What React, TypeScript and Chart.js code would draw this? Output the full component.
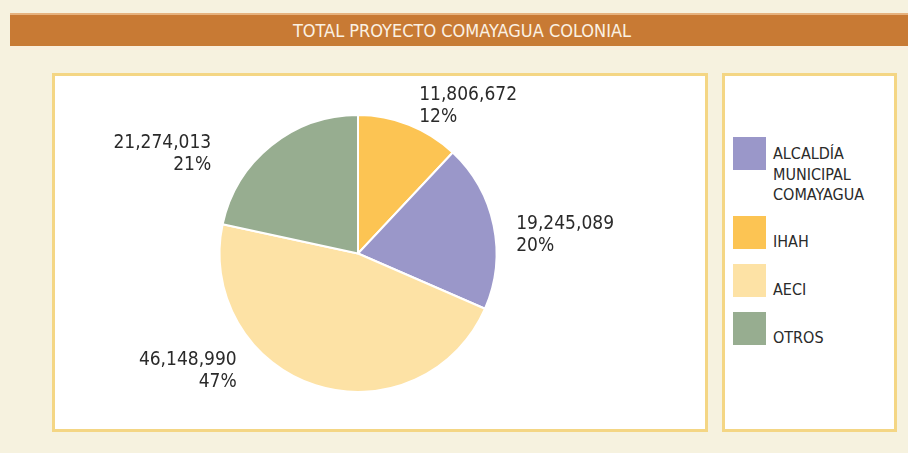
import React, { useEffect, useRef } from "react";
import { Chart, registerables } from "chart.js";

Chart.register(...registerables);

// ---- data (pie order, clockwise from top) ----
const sliceNames = ["IHAH", "ALCALDÍA MUNICIPAL COMAYAGUA", "AECI", "OTROS"];
const sliceValues = [11806672, 19245089, 46148990, 21274013];
const slicePercents = ["12%", "20%", "47%", "21%"];
const sliceColors = ["#FCC453", "#9A97C9", "#FDE2A5", "#97AD90"];

// legend order (indices into slice arrays) and its text lines
const legendOrder = [1, 0, 2, 3];
const legendLines = [["IHAH"], ["ALCALDÍA", "MUNICIPAL", "COMAYAGUA"], ["AECI"], ["OTROS"]];

const title = "TOTAL PROYECTO COMAYAGUA COLONIAL";

// label placement styling (angle shift in degrees, radius factor)
const labelShift = [1, 5, 28, -17];
const labelRadius = [1.15, 1.15, 1.22, 1.28];

const FONT = "'DejaVu Sans Condensed', 'DejaVu Sans', sans-serif";

const fmt = (v: number) => v.toLocaleString("en-US");

const labelPlugin = {
  id: "outerLabels",
  afterDatasetsDraw(chart: any) {
    const ctx = chart.ctx;
    const meta = chart.getDatasetMeta(0);
    ctx.save();
    ctx.font = `19px ${FONT}`;
    ctx.fillStyle = "#2a2a2a";
    ctx.textBaseline = "middle";
    meta.data.forEach((arc: any, i: number) => {
      const p = arc.getProps(["x", "y", "startAngle", "endAngle", "outerRadius"], true);
      const mid = (p.startAngle + p.endAngle) / 2 + (labelShift[i] * Math.PI) / 180;
      const r = p.outerRadius * labelRadius[i];
      const ax = p.x + Math.cos(mid) * r;
      const ay = p.y + Math.sin(mid) * r;
      const right = Math.cos(mid) >= 0;
      ctx.textAlign = right ? "left" : "right";
      const lines = [fmt(sliceValues[i]), slicePercents[i]];
      const lh = 22;
      lines.forEach((t, k) => {
        ctx.fillText(t, ax, ay + (k - (lines.length - 1) / 2) * lh);
      });
    });
    ctx.restore();
  },
};

export default function App() {
  const ref = useRef<HTMLCanvasElement | null>(null);

  useEffect(() => {
    document.body.style.margin = "0";
    if (!ref.current) return;
    const chart = new Chart(ref.current, {
      type: "pie",
      data: {
        labels: sliceNames,
        datasets: [
          {
            data: sliceValues,
            backgroundColor: sliceColors,
            borderColor: "#ffffff",
            borderWidth: 2,
          },
        ],
      },
      options: {
        animation: false,
        responsive: true,
        maintainAspectRatio: false,
        layout: { padding: { left: 0, right: 44, top: 38, bottom: 36 } },
        plugins: {
          legend: { display: false },
          tooltip: { enabled: false },
        },
      },
      plugins: [labelPlugin],
    });
    return () => chart.destroy();
  }, []);

  return (
    <div
      style={{
        position: "fixed",
        left: 0,
        top: 0,
        width: 908,
        height: 453,
        background: "#F6F2DF",
        overflow: "hidden",
        fontFamily: FONT,
      }}
    >
      {/* title bar */}
      <div style={{ position: "absolute", left: 10, top: 13, right: 0, height: 2, background: "#E6B27E" }} />
      <div
        style={{
          position: "absolute",
          left: 10,
          top: 15,
          right: 0,
          height: 31,
          background: "#C87A34",
          color: "#FBF1E3",
          fontSize: 18,
          lineHeight: "31px",
          textAlign: "center",
          paddingLeft: 6,
          boxSizing: "border-box",
        }}
      >
        {title}
      </div>
      <div style={{ position: "absolute", left: 10, top: 46, right: 0, height: 4, background: "#FAEEDC" }} />

      {/* main chart box */}
      <div
        style={{
          position: "absolute",
          left: 52,
          top: 73,
          width: 656,
          height: 359,
          border: "3px solid #F4D684",
          background: "#ffffff",
          boxSizing: "border-box",
        }}
      >
        <div style={{ position: "absolute", left: 0, top: 0, width: 650, height: 353 }}>
          <canvas ref={ref} />
        </div>
      </div>

      {/* legend box */}
      <div
        style={{
          position: "absolute",
          left: 722,
          top: 73,
          width: 175,
          height: 359,
          border: "3px solid #F4D684",
          background: "#ffffff",
          boxSizing: "border-box",
        }}
      >
        <div style={{ position: "absolute", left: 8, top: 61 }}>
          {legendOrder.map((idx) => {
            const lines = legendLines[idx];
            const multi = lines.length > 1;
            return (
              <div
                key={idx}
                style={{
                  display: "flex",
                  alignItems: "flex-start",
                  marginBottom: multi ? 10.5 : 11.5,
                }}
              >
                <div style={{ width: 33, height: 33, background: sliceColors[idx], flex: "none" }} />
                <div
                  style={{
                    marginLeft: 7,
                    marginTop: multi ? 7 : 16,
                    fontSize: 16,
                    lineHeight: "20.5px",
                    color: "#2a2a2a",
                    whiteSpace: "nowrap",
                  }}
                >
                  {lines.map((l, k) => (
                    <div key={k}>{l}</div>
                  ))}
                </div>
              </div>
            );
          })}
        </div>
      </div>
    </div>
  );
}
